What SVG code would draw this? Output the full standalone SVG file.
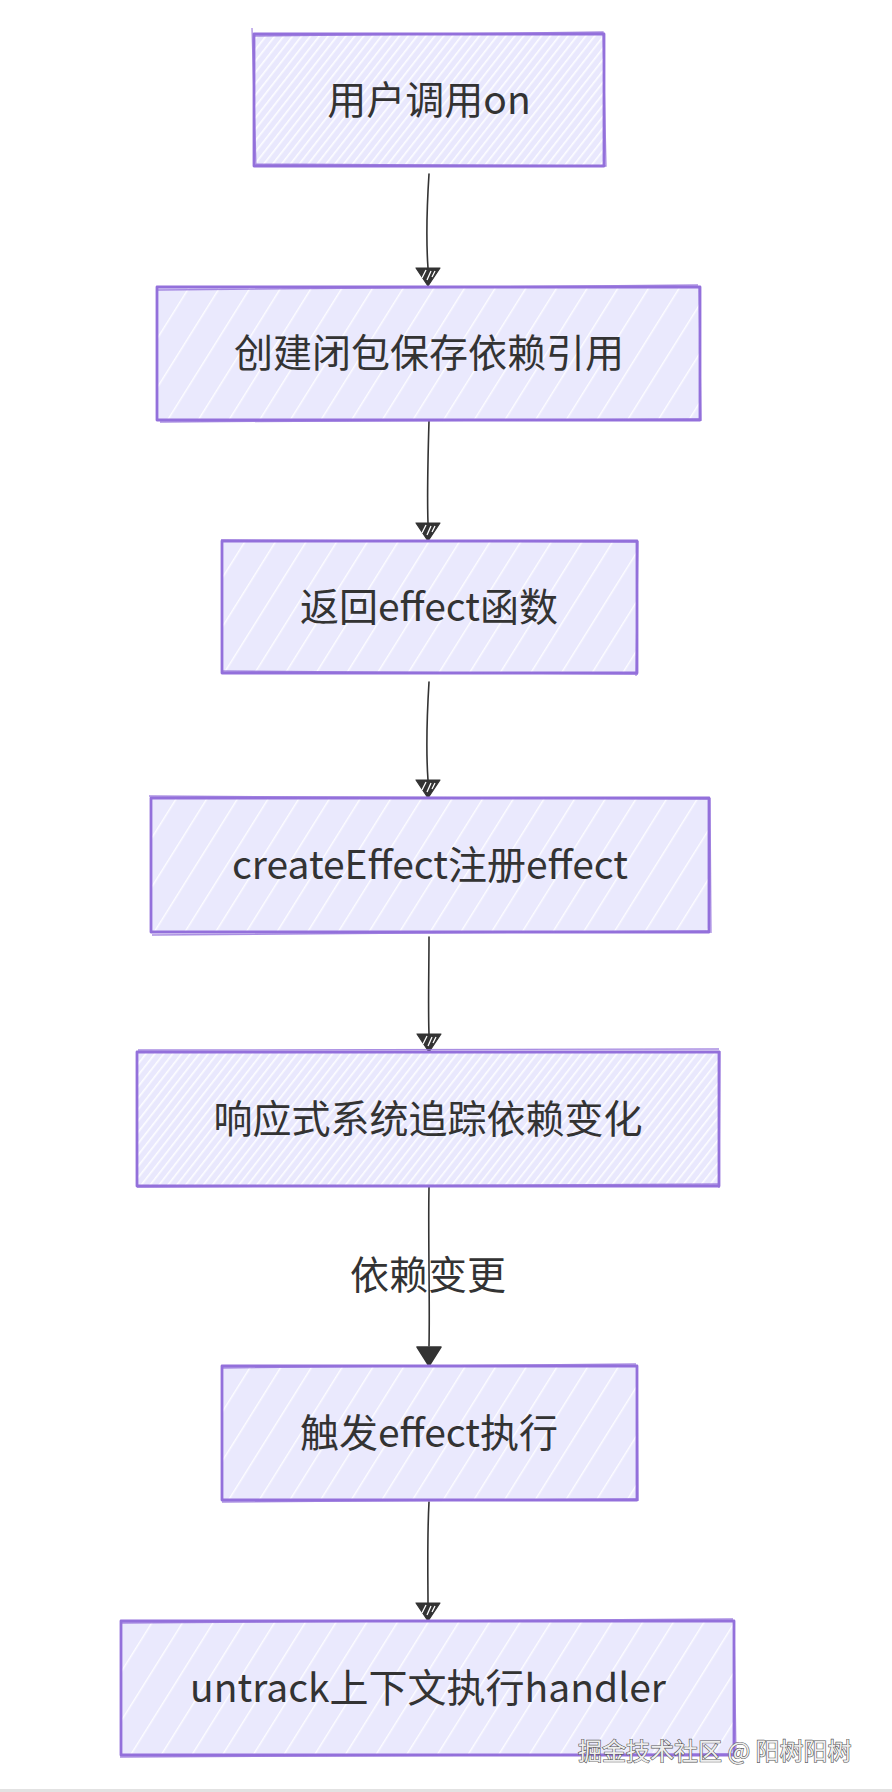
<svg xmlns="http://www.w3.org/2000/svg" xmlns:xlink="http://www.w3.org/1999/xlink" width="892" height="1792" viewBox="0 0 892 1792">
<style>
.box{stroke:#9370DB;stroke-width:2.8;stroke-linejoin:round}
.box2{fill:none;stroke:#9370DB;stroke-width:1.3;opacity:0.8}
.lbl{font-family:"Noto Sans CJK SC","Noto Sans",sans-serif;font-size:39px;fill:#333;text-anchor:middle}
.edge{fill:none;stroke:#333;stroke-width:1.6;stroke-linecap:round}
.wm{font-family:"Noto Sans CJK SC","Noto Sans",sans-serif;font-size:24px;fill:#eeeeee;stroke:#555;stroke-width:1.2;paint-order:stroke}
</style>
<defs>
<pattern id="hatchD" patternUnits="userSpaceOnUse" width="7" height="7" patternTransform="rotate(38)">
<rect width="7" height="7" fill="#E9E8FD"/>
<rect x="0" y="0" width="1.6" height="7" fill="#ffffff" opacity="0.9"/>
</pattern>
<pattern id="hatchS" patternUnits="userSpaceOnUse" width="26" height="26" patternTransform="rotate(32)">
<rect width="26" height="26" fill="#EAE9FD"/>
<rect x="0" y="0" width="1.4" height="26" fill="#ffffff" opacity="0.9"/>
</pattern>
<g id="headH">
<path d="M-12,-18 L12,-18 L0,0 Z" fill="#333" stroke="#333" stroke-width="1.2" stroke-linejoin="round"/>
<path d="M-6,-8 L-2,-16 M-1,-6 L3,-15 M4,-9 L7,-15" stroke="#fff" stroke-width="1.3" fill="none"/>
</g>
<g id="headS">
<path d="M-12,-19 L12,-19 L0,0 Z" fill="#333" stroke="#333" stroke-width="1.5" stroke-linejoin="round"/>
</g>
</defs>
<rect width="892" height="1792" fill="#ffffff"/>

<g id="edges">
<path class="edge" d="M429,174 C427,205 426,240 428,268"/>
<use href="#headH" x="428" y="286"/>
<path class="edge" d="M429,421 C428,455 427,495 428,523"/>
<use href="#headH" x="428" y="541"/>
<path class="edge" d="M429,682 C427,715 426,752 428,780"/>
<use href="#headH" x="428" y="798"/>
<path class="edge" d="M429,937 C429,970 428,1008 429,1034"/>
<use href="#headH" x="429" y="1052"/>
<path class="edge" d="M429,1187 C428,1240 430,1300 429,1346"/>
<use href="#headS" x="429" y="1366"/>
<path class="edge" d="M429,1502 C427,1540 428,1580 428,1603"/>
<use href="#headH" x="428" y="1621"/>
</g>

<g id="edge-label">
<text class="lbl" x="428" y="1289">依赖变更</text>
</g>

<g id="n1">
<rect class="box" x="254" y="34" width="350" height="132" fill="url(#hatchD)"/>
<path class="box2" d="M252,28 L256,167 M255,36 L603,32 L606,166 L256,164"/>
<text class="lbl" x="429" y="114">用户调用on</text>
</g>
<g id="n2">
<rect class="box" x="157" y="287" width="543" height="133" fill="url(#hatchS)"/>
<path class="box2" d="M158,290 L698,285 M699,286 L701,421 M160,422 L700,419"/>
<text class="lbl" x="429" y="367">创建闭包保存依赖引用</text>
</g>
<g id="n3">
<rect class="box" x="222" y="541" width="415" height="132" fill="url(#hatchS)"/>
<path class="box2" d="M221,540 L636,542 M638,541 L636,676 M221,671 L638,674"/>
<text class="lbl" x="429" y="621">返回effect函数</text>
</g>
<g id="n4">
<rect class="box" x="151" y="798" width="558" height="134" fill="url(#hatchS)"/>
<path class="box2" d="M149,796 L708,799 M710,798 L711,933 M152,935 L709,931"/>
<text class="lbl" x="430" y="879">createEffect注册effect</text>
</g>
<g id="n5">
<rect class="box" x="137" y="1052" width="582" height="134" fill="url(#hatchD)"/>
<path class="box2" d="M138,1050 L719,1049 M720,1051 L719,1188 M137,1187 L718,1184"/>
<text class="lbl" x="428" y="1133">响应式系统追踪依赖变化</text>
</g>
<g id="n6">
<rect class="box" x="222" y="1366" width="415" height="134" fill="url(#hatchS)"/>
<path class="box2" d="M221,1368 L636,1364 M637,1365 L638,1501 M222,1502 L637,1499"/>
<text class="lbl" x="429" y="1447">触发effect执行</text>
</g>
<g id="n7">
<rect class="box" x="121" y="1621" width="613" height="134" fill="url(#hatchS)"/>
<path class="box2" d="M121,1623 L733,1619 M734,1621 L736,1756 M120,1757 L733,1754"/>
<text class="lbl" x="428" y="1702">untrack上下文执行handler</text>
</g>

<text class="wm" x="578" y="1760">掘金技术社区 @ 阳树阳树</text>
<rect x="0" y="1789" width="892" height="3" fill="#e2e2e2"/>
</svg>
